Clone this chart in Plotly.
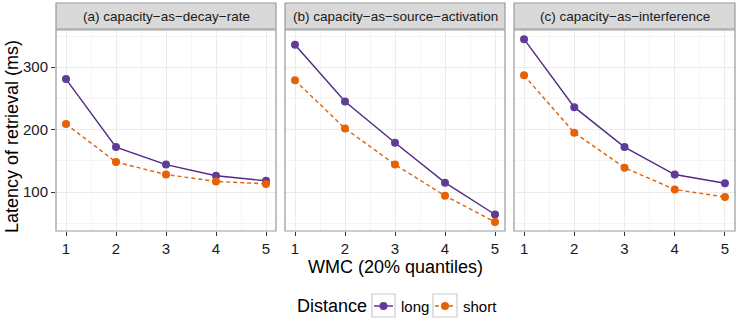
import plotly.graph_objects as go

W, H = 737, 323

panels = ["(a) capacity\u2212as\u2212decay\u2212rate",
          "(b) capacity\u2212as\u2212source\u2212activation",
          "(c) capacity\u2212as\u2212interference"]
wmc = [1, 2, 3, 4, 5]
long_a = [281, 172, 144, 126, 118]
short_a = [209, 148, 128, 117, 113]
long_b = [336, 245, 179, 115, 64]
short_b = [279, 202, 144, 94, 52]
long_c = [345, 236, 172, 128, 114]
short_c = [287, 195, 139, 104, 92]
long_vals = [long_a, long_b, long_c]
short_vals = [short_a, short_b, short_c]
y_ticks = [100, 200, 300]
x_ticks = [1, 2, 3, 4, 5]
series_names = ["long", "short"]

PURPLE = "#542788"
PURPLE_M = "#5E3C99"
ORANGE = "#E66101"
FONT = "Liberation Sans, Arial, sans-serif"
DASH = "4px,3px"

def px_x(p):
    return p / W

def px_y(p):
    return 1 - p / H

panel_px = [(56, 276), (285, 505), (514, 735)]
top_px, bot_px = 30, 231
strip_top = 3

fig = go.Figure()
layout = {}
for i in range(3):
    sfx = "" if i == 0 else str(i + 1)
    xa, ya = "x" + sfx, "y" + sfx
    fig.add_trace(go.Scatter(
        x=wmc, y=long_vals[i], mode="lines+markers", name=series_names[0],
        line=dict(color=PURPLE, width=1.4),
        marker=dict(color=PURPLE_M, size=8),
        xaxis=xa, yaxis=ya, showlegend=False))
    fig.add_trace(go.Scatter(
        x=wmc, y=short_vals[i], mode="lines+markers", name=series_names[1],
        line=dict(color=ORANGE, width=1.4, dash=DASH),
        marker=dict(color=ORANGE, size=8),
        xaxis=xa, yaxis=ya, showlegend=False))
    l, r = panel_px[i]
    layout["xaxis" + sfx] = dict(
        domain=[px_x(l), px_x(r)], range=[0.8, 5.2], anchor=ya,
        tickvals=x_ticks, ticks="outside", ticklen=4, tickwidth=1.2,
        tickcolor="#333333", showline=False, zeroline=False,
        showgrid=True, gridcolor="#EBEBEB", gridwidth=1.2,
        minor=dict(dtick=0.5, tick0=0.5, showgrid=True, gridcolor="#F5F5F5", gridwidth=0.8),
        tickfont=dict(size=15, color="#1a1a1a", family=FONT))
    layout["yaxis" + sfx] = dict(
        domain=[px_y(bot_px), px_y(top_px)], range=[37.5, 359.7], anchor=xa,
        tickvals=y_ticks, ticks="outside" if i == 0 else "", ticklen=4, tickwidth=1.2,
        tickcolor="#333333", showticklabels=(i == 0), showline=False, zeroline=False,
        showgrid=True, gridcolor="#EBEBEB", gridwidth=1.2,
        minor=dict(dtick=100, tick0=50, showgrid=True, gridcolor="#F5F5F5", gridwidth=0.8),
        tickfont=dict(size=15, color="#1a1a1a", family=FONT))

shapes = []
annotations = []
for i in range(3):
    l, r = panel_px[i]
    shapes.append(dict(type="rect", xref="paper", yref="paper",
                       x0=px_x(l), x1=px_x(r), y0=px_y(bot_px), y1=px_y(top_px),
                       line=dict(color="#999999", width=1.2), fillcolor="rgba(0,0,0,0)",
                       layer="above"))
    shapes.append(dict(type="rect", xref="paper", yref="paper",
                       x0=px_x(l), x1=px_x(r), y0=px_y(top_px - 1), y1=px_y(strip_top),
                       line=dict(color="#999999", width=1.2), fillcolor="#D9D9D9"))
    annotations.append(dict(text=panels[i], xref="paper", yref="paper",
                            x=px_x((l + r) / 2), y=px_y((strip_top + top_px) / 2 + 0.5),
                            showarrow=False, xanchor="center", yanchor="middle",
                            font=dict(size=13.5, family=FONT, color="#1a1a1a")))

annotations.append(dict(text="WMC (20% quantiles)", xref="paper", yref="paper",
                        x=px_x(395), y=px_y(267), showarrow=False,
                        xanchor="center", yanchor="middle",
                        font=dict(size=18, family=FONT, color="#000")))
annotations.append(dict(text="Latency of retrieval (ms)", xref="paper", yref="paper",
                        x=px_x(12), y=px_y(137), showarrow=False, textangle=-90,
                        xanchor="center", yanchor="middle",
                        font=dict(size=18, family=FONT, color="#000")))

# legend (drawn as a keyed box row, like ggplot)
leg_y = 306
annotations.append(dict(text="Distance", xref="paper", yref="paper",
                        x=px_x(295), y=px_y(leg_y), showarrow=False,
                        xanchor="left", yanchor="middle",
                        font=dict(size=18, family=FONT, color="#000")))
keys = [(372, 395, PURPLE, PURPLE_M, "solid", series_names[0]),
        (433, 457, ORANGE, ORANGE, DASH, series_names[1])]
for k0, k1, lc, mc, dash, name in keys:
    shapes.append(dict(type="rect", xref="paper", yref="paper",
                       x0=px_x(k0), x1=px_x(k1), y0=px_y(317), y1=px_y(294),
                       line=dict(color="#CCCCCC", width=1.2), fillcolor="white"))
    shapes.append(dict(type="line", xref="paper", yref="paper",
                       x0=px_x(k0 + 2), x1=px_x(k1 - 2), y0=px_y(leg_y), y1=px_y(leg_y),
                       line=dict(color=lc, width=1.4, dash=dash)))
    cx = (k0 + k1) / 2
    shapes.append(dict(type="circle", xref="paper", yref="paper",
                       x0=px_x(cx - 4), x1=px_x(cx + 4), y0=px_y(leg_y + 4), y1=px_y(leg_y - 4),
                       line=dict(width=0), fillcolor=mc))
    annotations.append(dict(text=name, xref="paper", yref="paper",
                            x=px_x(k1 + 4), y=px_y(leg_y), showarrow=False,
                            xanchor="left", yanchor="middle",
                            font=dict(size=15, family=FONT, color="#000")))

fig.update_layout(
    width=W, height=H, margin=dict(l=0, r=0, t=0, b=0),
    paper_bgcolor="white", plot_bgcolor="white",
    shapes=shapes, annotations=annotations,
    showlegend=False,
    **layout)

fig.write_html("out.html", config={"displayModeBar": False},
               post_script="document.body.style.margin='0';document.body.style.overflow='hidden';")
